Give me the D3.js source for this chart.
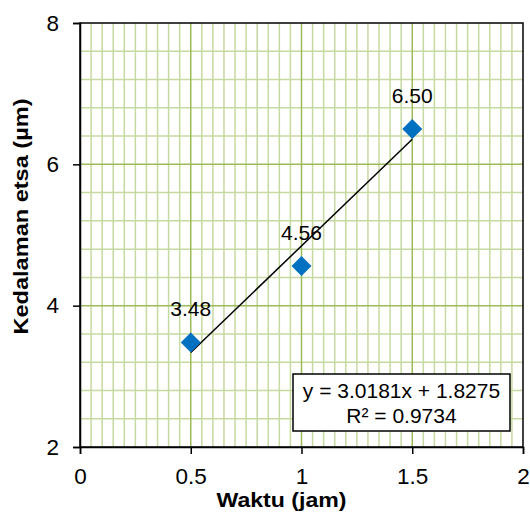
<!DOCTYPE html>
<html>
<head>
<meta charset="utf-8">
<script src="https://cdn.jsdelivr.net/npm/d3@7/dist/d3.min.js"></script>
<style>
  html, body { margin: 0; padding: 0; background: #fff; }
  svg text { font-family: "Liberation Sans", Arial, sans-serif; fill: #000; }
</style>
</head>
<body>
<svg id="chart" width="530" height="516"></svg>
<script>
// Etch depth vs. time
const times = [0.5, 1.0, 1.5];
const depths = [3.48, 4.56, 6.50];
const depthLabels = ["3.48", "4.56", "6.50"];
const xTicks = [0, 0.5, 1, 1.5, 2];
const yTicks = [2, 4, 6, 8];
const fitSlope = 3.0181;
const fitIntercept = 1.8275;
const fitText = ["y = 3.0181x + 1.8275", "R\u00B2 = 0.9734"];
const xTitle = "Waktu (jam)";
const yTitle = "Kedalaman etsa (\u00B5m)";

const svg = d3.select("#chart");
const plotL = 80, plotR = 523, plotT = 23, plotB = 447;
const fs = 21, tickFs = 22.5;

const x = d3.scaleLinear().domain([0, 2]).range([plotL, plotR]);
const y = d3.scaleLinear().domain([2, 8]).range([plotB, plotT]);

const majorCol = "#9bbb59", minorCol = "#c6d9a0";

// minor grid
const xMinor = d3.range(0, 2.0001, 0.05).filter(v => Math.abs(v * 2 - Math.round(v * 2)) > 1e-6);
const yMinor = d3.range(2, 8.0001, 0.4).filter(v => Math.abs(v / 2 - Math.round(v / 2)) > 1e-6);
const g = svg.append("g");
g.selectAll(".vm").data(xMinor).join("line")
  .attr("x1", d => x(d)).attr("x2", d => x(d)).attr("y1", plotT).attr("y2", plotB)
  .attr("stroke", minorCol).attr("stroke-width", 1.5);
g.selectAll(".hm").data(yMinor).join("line")
  .attr("x1", plotL).attr("x2", plotR).attr("y1", d => y(d)).attr("y2", d => y(d))
  .attr("stroke", minorCol).attr("stroke-width", 1.5);
// major grid
g.selectAll(".vM").data(xTicks.slice(1, -1)).join("line")
  .attr("x1", d => x(d)).attr("x2", d => x(d)).attr("y1", plotT).attr("y2", plotB)
  .attr("stroke", majorCol).attr("stroke-width", 1.5);
g.selectAll(".hM").data(yTicks.slice(1, -1)).join("line")
  .attr("x1", plotL).attr("x2", plotR).attr("y1", d => y(d)).attr("y2", d => y(d))
  .attr("stroke", majorCol).attr("stroke-width", 1.5);

// plot border
svg.append("rect").attr("x", plotL).attr("y", plotT)
  .attr("width", plotR - plotL).attr("height", plotB - plotT)
  .attr("fill", "none").attr("stroke", "#000").attr("stroke-width", 1.5);

// axes
const xAxis = svg.append("g").attr("transform", `translate(0,${plotB})`)
  .call(d3.axisBottom(x).tickValues(xTicks).tickSize(7).tickPadding(14).tickFormat(d3.format("")));
const yAxis = svg.append("g").attr("transform", `translate(${plotL},0)`)
  .call(d3.axisLeft(y).tickValues(yTicks).tickSize(7).tickPadding(14).tickFormat(d3.format("")));
[xAxis, yAxis].forEach(a => {
  a.select(".domain").attr("stroke", "#000").attr("stroke-width", 1.5);
  a.selectAll(".tick line").attr("stroke", "#000").attr("stroke-width", 1.5);
  a.selectAll(".tick text").attr("font-size", tickFs).attr("font-family", "Liberation Sans, Arial, sans-serif");
});

// trendline
svg.append("line")
  .attr("x1", x(times[0])).attr("y1", y(fitSlope * times[0] + fitIntercept))
  .attr("x2", x(times[times.length - 1])).attr("y2", y(fitSlope * times[times.length - 1] + fitIntercept))
  .attr("stroke", "#000").attr("stroke-width", 1.5);

// markers
const pts = times.map((t, i) => ({ t, d: depths[i], label: depthLabels[i] }));
svg.selectAll(".pt").data(pts).join("path")
  .attr("transform", d => `translate(${x(d.t)},${y(d.d)})`)
  .attr("d", "M0,-10L10,0L0,10L-10,0Z")
  .attr("fill", "#0070c0");

// value labels
svg.selectAll(".lbl").data(pts).join("text")
  .attr("x", d => x(d.t)).attr("y", d => y(d.d) - 26)
  .attr("text-anchor", "middle").attr("font-size", fs)
  .text(d => d.label);

// equation box
const bx = 293, by = 374, bw = 217, bh = 57;
svg.append("rect").attr("x", bx).attr("y", by).attr("width", bw).attr("height", bh)
  .attr("fill", "#fff").attr("stroke", "#000").attr("stroke-width", 1.5);
svg.selectAll(".eq").data(fitText).join("text")
  .attr("x", bx + bw / 2).attr("y", (d, i) => by + 23.5 + i * 25.5)
  .attr("text-anchor", "middle").attr("font-size", fs)
  .text(d => d);

// axis titles
svg.append("text").attr("x", 281.5).attr("y", 507)
  .attr("text-anchor", "middle").attr("font-size", fs).attr("font-weight", "bold")
  .attr("textLength", 130).attr("lengthAdjust", "spacingAndGlyphs")
  .text(xTitle);
svg.append("text").attr("transform", `translate(28,216.5) rotate(-90)`)
  .attr("text-anchor", "middle").attr("font-size", fs).attr("font-weight", "bold")
  .attr("textLength", 236).attr("lengthAdjust", "spacingAndGlyphs")
  .text(yTitle);
</script>
</body>
</html>
